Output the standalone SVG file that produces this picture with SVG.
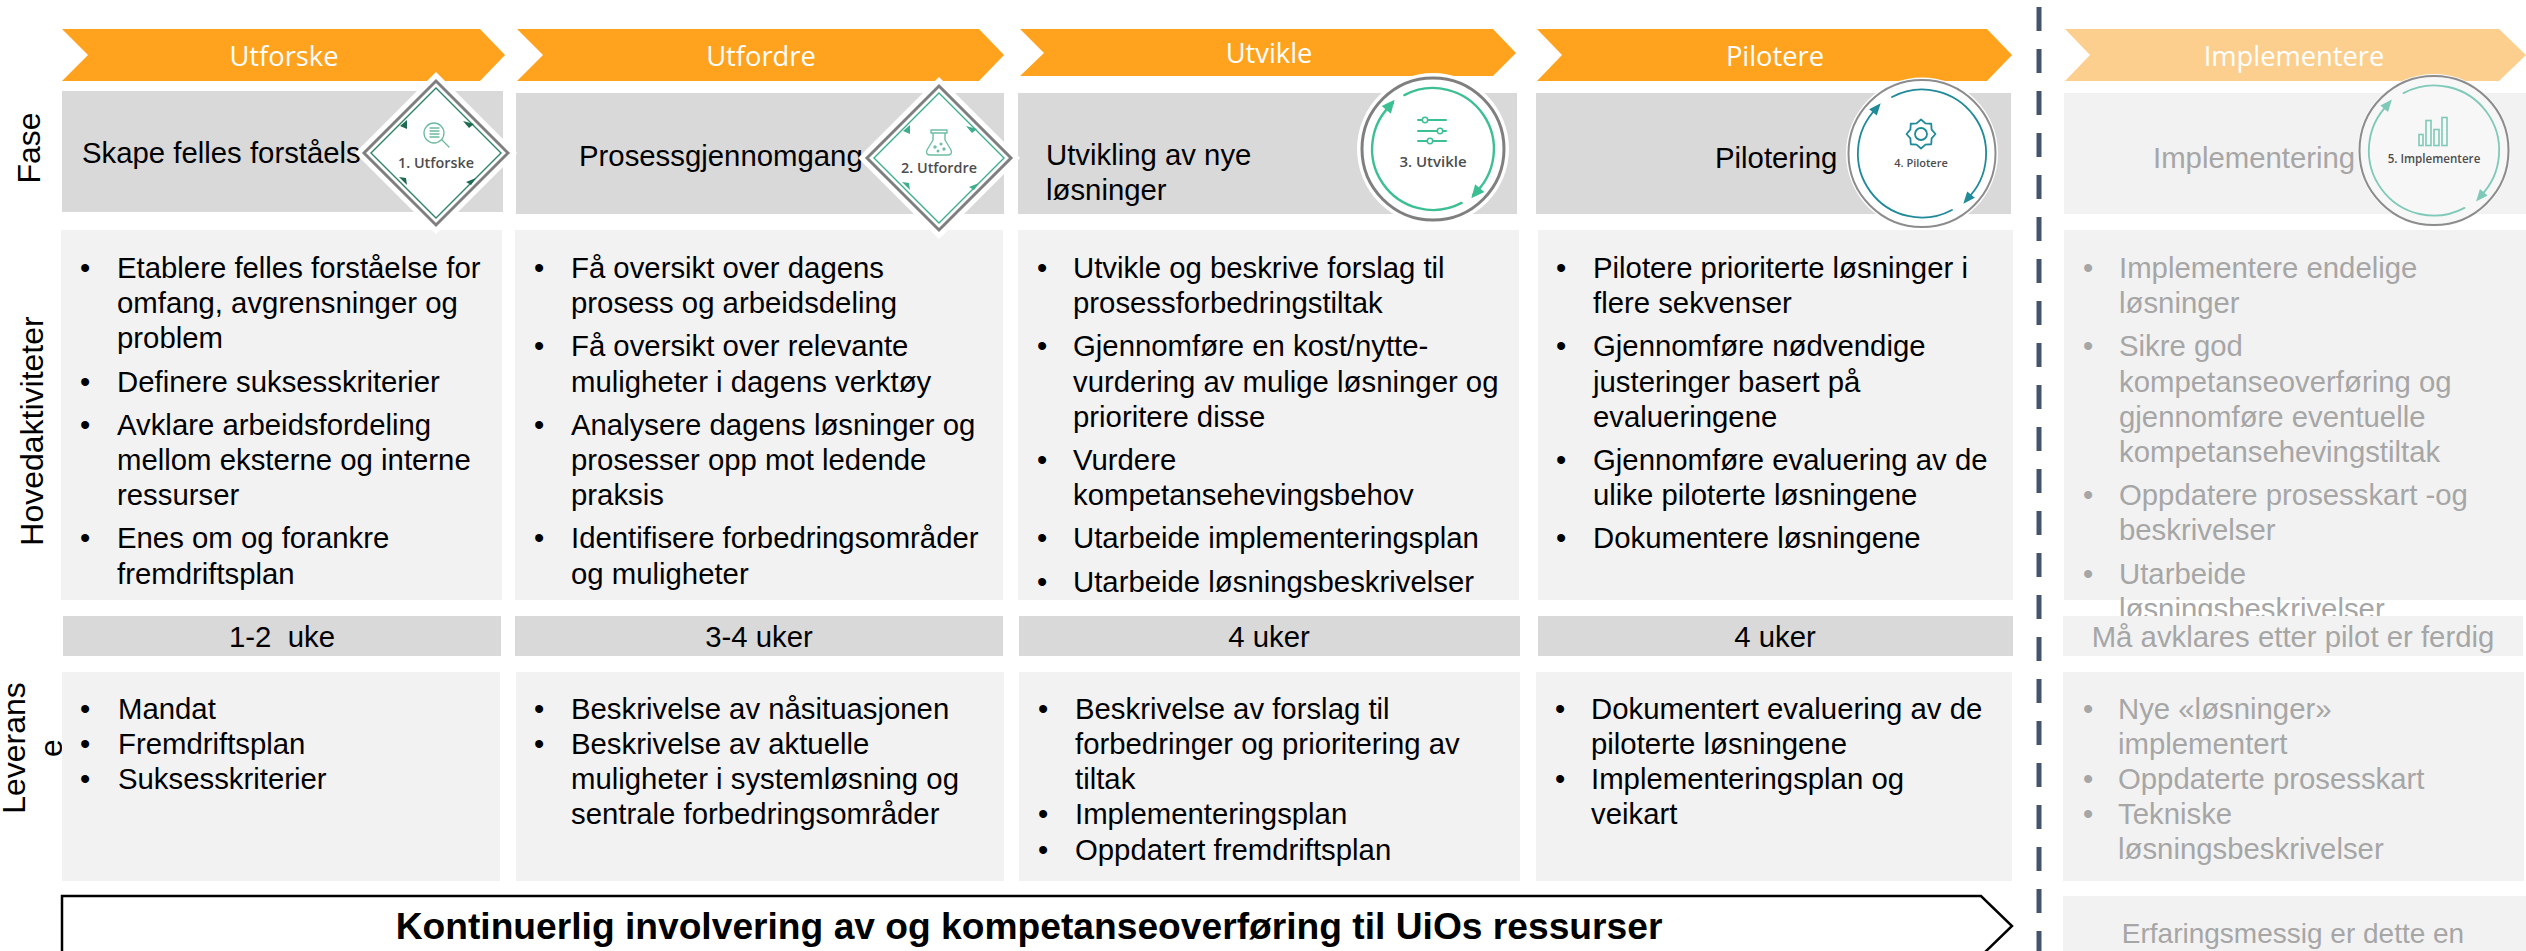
<svg xmlns="http://www.w3.org/2000/svg" width="2526" height="951" viewBox="0 0 2526 951">
<style>
text{font-family:"Liberation Sans",Arial,sans-serif;font-size:29.33px;fill:#000}
.g{fill:#A6A6A6}
.chev{fill:#FFA31E}
.chevl{fill:#FDCF8E}
.clab{font-family:"Open Sans","Noto Sans",sans-serif;font-size:27.3px;fill:#fff;text-anchor:middle}
.dk{fill:#D9D9D9}
.lt{fill:#F2F2F2}
.mid{text-anchor:middle}
.row{font-size:32px}
.ico{font-family:"Open Sans","Noto Sans",sans-serif;font-size:14.4px;font-weight:600;fill:#4D4D4D;text-anchor:middle}
.halo{fill:#fff}
.nf{fill:none;stroke-linecap:round;stroke-linejoin:round}
</style>

<g id="divider"><line x1="2039" y1="7" x2="2039" y2="951" stroke="#44546A" stroke-width="5" stroke-dasharray="24 18"/></g>

<g id="row-labels">
<text class="row mid" transform="translate(40,148) rotate(-90)">Fase</text>
<text class="row mid" transform="translate(43,431) rotate(-90)">Hovedaktiviteter</text>
<text class="row mid" transform="translate(25,748) rotate(-90)">Leverans</text>
<text class="row mid" transform="translate(62,748) rotate(-90)">e</text>
</g>

<g id="col1">
<path class="chev" d="M62 29H480L505 55L480 81H62L88 55Z"/>
<text class="clab" x="284" y="66">Utforske</text>
<rect class="dk" x="62" y="91" width="441" height="121"/>
<text x="82" y="163">Skape felles forståels</text>
<rect class="lt" x="61" y="230" width="441" height="370"/>
<text transform="translate(0,1)"><tspan x="80" y="277">•</tspan><tspan x="117" y="277">Etablere felles forståelse for</tspan><tspan x="117" y="312">omfang, avgrensninger og</tspan><tspan x="117" y="347">problem</tspan><tspan x="80" y="391">•</tspan><tspan x="117" y="391">Definere suksesskriterier</tspan><tspan x="80" y="434">•</tspan><tspan x="117" y="434">Avklare arbeidsfordeling</tspan><tspan x="117" y="469">mellom eksterne og interne</tspan><tspan x="117" y="504">ressurser</tspan><tspan x="80" y="547">•</tspan><tspan x="117" y="547">Enes om og forankre</tspan><tspan x="117" y="583">fremdriftsplan</tspan></text>
<rect class="dk" x="63" y="616" width="438" height="40"/>
<text class="mid" x="282" y="647" xml:space="preserve">1-2  uke</text>
<rect class="lt" x="62" y="672" width="438" height="209"/>
<text transform="translate(0,1)"><tspan x="80" y="718">•</tspan><tspan x="118" y="718">Mandat</tspan><tspan x="80" y="753">•</tspan><tspan x="118" y="753">Fremdriftsplan</tspan><tspan x="80" y="788">•</tspan><tspan x="118" y="788">Suksesskriterier</tspan></text>
</g>

<g id="col2">
<path class="chev" d="M517 29H979L1004 55L979 81H517L543 55Z"/>
<text class="clab" x="761" y="66">Utfordre</text>
<rect class="dk" x="516" y="93" width="488" height="121"/>
<text x="579" y="166">Prosessgjennomgang</text>
<rect class="lt" x="515" y="230" width="488" height="370"/>
<text transform="translate(0,1)"><tspan x="534" y="277">•</tspan><tspan x="571" y="277">Få oversikt over dagens</tspan><tspan x="571" y="312">prosess og arbeidsdeling</tspan><tspan x="534" y="355">•</tspan><tspan x="571" y="355">Få oversikt over relevante</tspan><tspan x="571" y="391">muligheter i dagens verktøy</tspan><tspan x="534" y="434">•</tspan><tspan x="571" y="434">Analysere dagens løsninger og</tspan><tspan x="571" y="469">prosesser opp mot ledende</tspan><tspan x="571" y="504">praksis</tspan><tspan x="534" y="547">•</tspan><tspan x="571" y="547">Identifisere forbedringsområder</tspan><tspan x="571" y="583">og muligheter</tspan></text>
<rect class="dk" x="515" y="616" width="488" height="40"/>
<text class="mid" x="759" y="647">3-4 uker</text>
<rect class="lt" x="516" y="672" width="488" height="209"/>
<text transform="translate(0,1)"><tspan x="534" y="718">•</tspan><tspan x="571" y="718">Beskrivelse av nåsituasjonen</tspan><tspan x="534" y="753">•</tspan><tspan x="571" y="753">Beskrivelse av aktuelle</tspan><tspan x="571" y="788">muligheter i systemløsning og</tspan><tspan x="571" y="823">sentrale forbedringsområder</tspan></text>
</g>

<g id="col3">
<path class="chev" d="M1020 29H1493L1516 53L1493 76H1020L1044 53Z"/>
<text class="clab" x="1269" y="63">Utvikle</text>
<rect class="dk" x="1018" y="93" width="499" height="121"/>
<text x="1046" y="165">Utvikling av nye</text>
<text x="1046" y="200">løsninger</text>
<rect class="lt" x="1018" y="230" width="501" height="370"/>
<text transform="translate(0,1)"><tspan x="1037" y="277">•</tspan><tspan x="1073" y="277">Utvikle og beskrive forslag til</tspan><tspan x="1073" y="312">prosessforbedringstiltak</tspan><tspan x="1037" y="355">•</tspan><tspan x="1073" y="355">Gjennomføre en kost/nytte-</tspan><tspan x="1073" y="391">vurdering av mulige løsninger og</tspan><tspan x="1073" y="426">prioritere disse</tspan><tspan x="1037" y="469">•</tspan><tspan x="1073" y="469">Vurdere</tspan><tspan x="1073" y="504">kompetansehevingsbehov</tspan><tspan x="1037" y="547">•</tspan><tspan x="1073" y="547">Utarbeide implementeringsplan</tspan><tspan x="1037" y="591">•</tspan><tspan x="1073" y="591">Utarbeide løsningsbeskrivelser</tspan></text>
<rect class="dk" x="1019" y="616" width="501" height="40"/>
<text class="mid" x="1269" y="647">4 uker</text>
<rect class="lt" x="1019" y="672" width="501" height="209"/>
<text transform="translate(0,1)"><tspan x="1038" y="718">•</tspan><tspan x="1075" y="718">Beskrivelse av forslag til</tspan><tspan x="1075" y="753">forbedringer og prioritering av</tspan><tspan x="1075" y="788">tiltak</tspan><tspan x="1038" y="823">•</tspan><tspan x="1075" y="823">Implementeringsplan</tspan><tspan x="1038" y="859">•</tspan><tspan x="1075" y="859">Oppdatert fremdriftsplan</tspan></text>
</g>

<g id="col4">
<path class="chev" d="M1537 29H1987L2012 55L1987 81H1537L1562 55Z"/>
<text class="clab" x="1775" y="66">Pilotere</text>
<rect class="dk" x="1536" y="93" width="475" height="121"/>
<text x="1715" y="168">Pilotering</text>
<rect class="lt" x="1538" y="230" width="475" height="370"/>
<text transform="translate(0,1)"><tspan x="1556" y="277">•</tspan><tspan x="1593" y="277">Pilotere prioriterte løsninger i</tspan><tspan x="1593" y="312">flere sekvenser</tspan><tspan x="1556" y="355">•</tspan><tspan x="1593" y="355">Gjennomføre nødvendige</tspan><tspan x="1593" y="391">justeringer basert på</tspan><tspan x="1593" y="426">evalueringene</tspan><tspan x="1556" y="469">•</tspan><tspan x="1593" y="469">Gjennomføre evaluering av de</tspan><tspan x="1593" y="504">ulike piloterte løsningene</tspan><tspan x="1556" y="547">•</tspan><tspan x="1593" y="547">Dokumentere løsningene</tspan></text>
<rect class="dk" x="1538" y="616" width="475" height="40"/>
<text class="mid" x="1775" y="647">4 uker</text>
<rect class="lt" x="1536" y="672" width="476" height="209"/>
<text transform="translate(0,1)"><tspan x="1555" y="718">•</tspan><tspan x="1591" y="718">Dokumentert evaluering av de</tspan><tspan x="1591" y="753">piloterte løsningene</tspan><tspan x="1555" y="788">•</tspan><tspan x="1591" y="788">Implementeringsplan og</tspan><tspan x="1591" y="823">veikart</tspan></text>
</g>

<g id="col5">
<path class="chevl" d="M2065 29H2499L2526 55L2499 81H2065L2090 55Z"/>
<text class="clab" x="2294" y="66">Implementere</text>
<rect class="lt" x="2064" y="93" width="462" height="121"/>
<text class="g" x="2153" y="168">Implementering</text>
<rect class="lt" x="2064" y="230" width="462" height="370"/>
<text class="g" transform="translate(0,1)"><tspan class="g" x="2083" y="277">•</tspan><tspan class="g" x="2119" y="277">Implementere endelige</tspan><tspan class="g" x="2119" y="312">løsninger</tspan><tspan class="g" x="2083" y="355">•</tspan><tspan class="g" x="2119" y="355">Sikre god</tspan><tspan class="g" x="2119" y="391">kompetanseoverføring og</tspan><tspan class="g" x="2119" y="426">gjennomføre eventuelle</tspan><tspan class="g" x="2119" y="461">kompetansehevingstiltak</tspan><tspan class="g" x="2083" y="504">•</tspan><tspan class="g" x="2119" y="504">Oppdatere prosesskart -og</tspan><tspan class="g" x="2119" y="539">beskrivelser</tspan><tspan class="g" x="2083" y="583">•</tspan><tspan class="g" x="2119" y="583">Utarbeide</tspan><tspan class="g" x="2119" y="618">løsningsbeskrivelser</tspan></text>
<rect x="2063" y="616" width="460" height="40" class="lt"/>
<text class="g mid" x="2293" y="647">Må avklares etter pilot er ferdig</text>
<rect class="lt" x="2063" y="672" width="461" height="209"/>
<text class="g" transform="translate(0,1)"><tspan class="g" x="2083" y="718">•</tspan><tspan class="g" x="2118" y="718">Nye «løsninger»</tspan><tspan class="g" x="2118" y="753">implementert</tspan><tspan class="g" x="2083" y="788">•</tspan><tspan class="g" x="2118" y="788">Oppdaterte prosesskart</tspan><tspan class="g" x="2083" y="823">•</tspan><tspan class="g" x="2118" y="823">Tekniske</tspan><tspan class="g" x="2118" y="858">løsningsbeskrivelser</tspan></text>
<rect class="lt" x="2063" y="896" width="463" height="55"/>
<text class="g mid" style="font-size:28px" x="2293" y="943">Erfaringsmessig er dette en</text>
</g>

<g id="banner">
<path d="M62 896H1981L2012 926L1981 956H62Z" fill="#fff" stroke="#000" stroke-width="2.5"/>
<text class="mid" style="font-size:37.2px;font-weight:700" x="1029" y="939">Kontinuerlig involvering av og kompetanseoverføring til UiOs ressurser</text>
</g>

<g id="icon1" transform="translate(436,153)">
<polygon class="halo" points="0,-81 81,0 0,81 -81,0"/>
<polygon points="0,-72 72,0 0,72 -72,0" fill="#fff" stroke="#7F7F7F" stroke-width="3"/>
<polygon points="0,-65 65,0 0,65 -65,0" fill="#fff" stroke="#2F8468" stroke-width="1.4"/>
<path fill="#1F6B52" d="M-36-27L-29-33L-29-24ZM27-32L38-29L33-25ZM-37 24L-29 32L-30 25ZM30 29L40 25L35 32Z"/>
<g stroke="#6DB9A0" stroke-width="1.3" class="nf"><circle cx="-2" cy="-20" r="10"/><path d="M6-13L13-6M-6-25H3M-6-22H3M-6-19H3M-6-16H3"/></g>
<text class="ico" x="0" y="15">1. Utforske</text>
</g>

<g id="icon2" transform="translate(939,158)">
<polygon class="halo" points="0,-81 81,0 0,81 -81,0"/>
<polygon points="0,-72 72,0 0,72 -72,0" fill="#fff" stroke="#7F7F7F" stroke-width="3"/>
<polygon points="0,-65 65,0 0,65 -65,0" fill="#fff" stroke="#3FAE8C" stroke-width="1.4"/>
<path fill="#3FAE8C" d="M-36-27L-29-33L-29-24ZM27-32L38-29L33-25ZM-37 24L-29 32L-30 25ZM30 29L40 25L35 32Z"/>
<g stroke="#6DBDA4" stroke-width="1.4" class="nf"><path d="M-8-28H8V-25H-8ZM-6-25V-18L-12-8Q-14-3-8-3H8Q14-3 12-8L6-18V-25"/><circle cx="-4" cy="-11" r="1"/><circle cx="2" cy="-14" r=".8"/><circle cx="5" cy="-9" r="1"/><circle cx="-1" cy="-7" r=".8"/></g>
<text class="ico" x="0" y="15">2. Utfordre</text>
</g>

<g id="icon3" transform="translate(1433,149)">
<circle class="halo" r="76"/>
<circle r="71" fill="#fff" stroke="#7F7F7F" stroke-width="3"/>
<g stroke="#3DBF94" stroke-width="2.4" class="nf"><path d="M-28.6-53.9A61 61 0 0 1 40 46"/><path d="M28.6 53.9A61 61 0 0 1-40-46"/>
<path d="M-15-29H13M-15-18H13M-15-8H13" stroke-width="2"/><g fill="#fff" stroke-width="1.5"><circle cx="-8" cy="-29" r="2.7"/><circle cx="7" cy="-18" r="2.7"/><circle cx="-3" cy="-8" r="2.7"/></g></g>
<g fill="#3DBF94"><polygon transform="rotate(130)" points="0,-67 0,-55 13,-61"/><polygon transform="rotate(310)" points="0,-67 0,-55 13,-61"/></g>
<text class="ico" style="font-size:15px" x="0" y="18">3. Utvikle</text>
</g>

<g id="icon4" transform="translate(1922,153.5)">
<circle class="halo" r="76"/>
<circle r="73.5" fill="#fff" stroke="#8C8C8C" stroke-width="2"/>
<g stroke="#1F8A99" stroke-width="1.8" class="nf"><path d="M-30-56.5A64 64 0 0 1 45.3 45.3"/><path d="M30 56.5A64 64 0 0 1-45.3-45.3"/></g>
<g fill="#1F8A99"><polygon transform="rotate(130)" points="0,-69 0,-59 12,-64"/><polygon transform="rotate(310)" points="0,-69 0,-59 12,-64"/></g>
<g transform="translate(-1,-19.5)" stroke="#1F8A99" stroke-width="1.8" class="nf"><polygon points="0,-14.5 4.4,-10.6 10.25,-10.25 10.6,-4.4 14.5,0 10.6,4.4 10.25,10.25 4.4,10.6 0,14.5 -4.4,10.6 -10.25,10.25 -10.6,4.4 -14.5,0 -10.6,-4.4 -10.25,-10.25 -4.4,-10.6"/><circle r="6"/></g>
<text class="ico" style="font-size:11px" x="-1" y="13.5">4. Pilotere</text>
</g>

<g id="icon5" transform="translate(2434,150.5)">
<circle fill="#FAFAFA" r="76.5"/>
<circle r="74.5" fill="#F7F7F7" stroke="#8C8C8C" stroke-width="2"/>
<g stroke="#7FC9B8" stroke-width="1.8" class="nf"><path d="M-30.5-57.4A65 65 0 0 1 46 46"/><path d="M30.5 57.4A65 65 0 0 1-46-46"/></g>
<g fill="#7FC9B8"><polygon transform="rotate(130)" points="0,-70 0,-60 12,-65"/><polygon transform="rotate(310)" points="0,-70 0,-60 12,-65"/></g>
<g stroke="#7FC9B8" stroke-width="1.6" fill="none"><rect x="-15" y="-16" width="4" height="11"/><rect x="-8" y="-30" width="5" height="25"/><rect x="0" y="-21" width="5" height="16"/><rect x="8" y="-33" width="5" height="28"/></g>
<text class="ico" style="font-size:11.6px" x="0" y="12.5">5. Implementere</text>
</g>
</svg>
